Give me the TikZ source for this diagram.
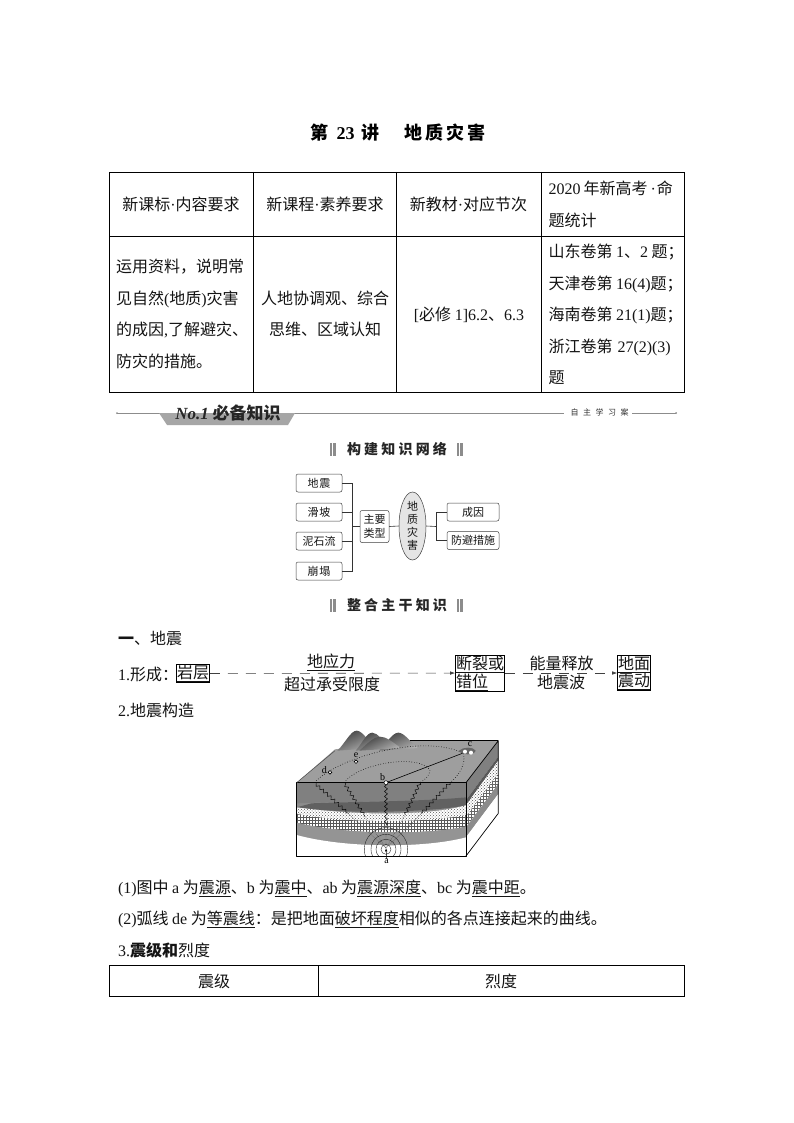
\documentclass[tikz,border=0pt]{standalone}
\usepackage{fontspec}
\setmainfont{Noto Sans CJK SC}
\newfontfamily\lat{Liberation Serif}
\newcommand{\ltn}[1]{{\lat #1}}
\newcommand{\fsz}[2]{\fontsize{#1}{#2}\selectfont}
\newcommand{\mdot}{{\lat\textperiodcentered}}
\usetikzlibrary{patterns,decorations.pathmorphing,arrows.meta,calc,shapes.geometric}
\definecolor{ink}{gray}{0.08}
\tikzset{
  txt/.style={inner sep=0pt,outer sep=0pt,text=ink,font=\fsz{16}{31.4}},
  ltxt/.style={txt,anchor=west,align=left},
  ctxt/.style={txt,align=center},
  rule/.style={draw=black,line width=0.8pt},
  mapbox/.style={draw=black!75,line width=0.5pt,rounded corners=2pt,inner sep=0pt,font=\fsz{11}{14},align=center,text=ink},
  mapline/.style={draw=black!80,line width=0.6pt},
  flowbox/.style={draw=black,line width=0.6pt,inner sep=0.5pt,font=\fsz{16}{15.5},align=center,text=ink},
  flowdash/.style={draw=black!75,line width=0.6pt,dash pattern=on 10pt off 8pt},
  headbar/.style={fill=black!45,draw=none},
  headtxt/.style={inner sep=0pt,text=black!85,font=\bfseries\fsz{14}{16}},
  marker/.style={font=\fsz{10}{11},inner sep=0pt,text=black},
  quake/.style={draw=black,line width=0.45pt,decorate,decoration={zigzag,amplitude=1.5pt,segment length=5pt}},
  isoline/.style={draw=black,line width=0.6pt,dotted}
}
\begin{document}
\begin{tikzpicture}[x=1pt,y=-1pt]
\useasboundingbox (0,0) rectangle (794,1123);
\fill[white] (0,0) rectangle (794,1123);

% title
\node[inner sep=0pt,font=\bfseries\fsz{18}{20},text=black] (title) at (398,133)
  {第\kern8pt\ltn{\bfseries 23}\kern7pt 讲\kern25pt 地\kern3pt 质\kern3pt 灾\kern3pt 害};

% top table
\draw[rule] (109.5,172) rectangle (684.5,392);
\draw[rule] (109.5,236) -- (684.5,236);
\foreach \x in {253,396,541} \draw[rule] (\x,172) -- (\x,392);
\node[ctxt] (h1) at (181,204) {新课标\mdot 内容要求};
\node[ctxt] (h2) at (325,204) {新课程\mdot 素养要求};
\node[ctxt] (h3) at (468.5,204) {新教材\mdot 对应节次};
\node[ltxt,anchor=west] (h4) at (548.5,204.5) {\ltn{2020}\kern3pt 年新高考\kern3pt\mdot\kern1pt 命\\题统计};
\node[ltxt,anchor=west] (b1) at (116,314) {运用资料，说明常\\见自然\ltn{(}地质\ltn{)}灾害\\的成因\ltn{,}了解避灾、\\防灾的措施。};
\node[ctxt] (b2) at (325,314) {人地协调观、综合\\思维、区域认知};
\node[ctxt] (b3) at (469,314.5) {\ltn{[}必修 \ltn{1]6.2}、\ltn{6.3}};
\node[ltxt,anchor=west] (b4) at (548.5,314.5) {山东卷第 \ltn{1}、\ltn{2} 题；\\天津卷第 \ltn{16(4)}题；\\海南卷第 \ltn{21(1)}题；\\浙江卷第\kern5pt\ltn{27(2)(3)}\\题};

% section strip
\coordinate (stripL) at (117,413);
\coordinate (stripR) at (676,413);
\node[inner sep=0pt,font=\fsz{8}{10},text=black!80] (self) at (599.5,412.5) {自\kern4.5pt 主\kern4.5pt 学\kern4.5pt 习\kern4.5pt 案};
\draw[black!45,line width=0.7pt] (stripL) -- (564,413);
\draw[black!45,line width=0.7pt] (632,413) -- (stripR);
\fill[black!45] (stripL) circle (1pt) (stripR) circle (1pt);
\fill[black!35] (159,413) -- (295,413) -- (288,425) -- (167,425) -- cycle;
\node[inner sep=0pt,text=black!85,font=\bfseries\fsz{17}{18}] (no1) at (228,412.5) {\ltn{\bfseries\itshape No.1} 必备知识};

% header 1
\node[headtxt] (net) at (397,449.5) {构\kern3.2pt 建\kern3.2pt 知\kern3.2pt 识\kern3.2pt 网\kern3.2pt 络};
\foreach \x in {330,457} {\fill[headbar] (\x,443) rectangle ++(1.6,13); \fill[headbar] (\x+3.4,443) rectangle ++(3,13);}

% mind map
\node[mapbox,minimum width=46pt,minimum height=18pt] (m1) at (319,483) {地\kern1pt 震};
\node[mapbox,minimum width=46pt,minimum height=18pt] (m2) at (319,512) {滑\kern1pt 坡};
\node[mapbox,minimum width=46pt,minimum height=18pt] (m3) at (319,541) {泥石流};
\node[mapbox,minimum width=46pt,minimum height=18pt] (m4) at (319,571) {崩\kern1pt 塌};
\node[mapbox,minimum width=29pt,minimum height=32pt] (mt) at (374.5,526.5) {主要\\类型};
\node[mapbox,shape=ellipse,fill=black!10,rounded corners=0pt,inner sep=-6pt,minimum width=27pt,minimum height=68pt,font=\fsz{11}{12.8}] (mc) at (412.5,526) {地\\质\\灾\\害};
\node[mapbox,minimum width=52pt,minimum height=18pt] (r1) at (473,512) {成因};
\node[mapbox,minimum width=52pt,minimum height=18pt] (r2) at (473,540.5) {防避措施};
\coordinate (jl) at (352,526.5);
\coordinate (jr) at (436,526.5);
\draw[mapline] (m1.east) -| (jl);
\draw[mapline] (m4.east) -| (jl);
\draw[mapline] (m2.east) -- (m2.east -| jl);
\draw[mapline] (m3.east) -- (m3.east -| jl);
\draw[mapline] (jl) -- (mt.west);
\draw[mapline] (mt.east) -- (mc.west);
\draw[mapline] (mc.east) -- (jr);
\draw[mapline] (jr) |- (r1.west);
\draw[mapline] (jr) |- (r2.west);

% header 2
\node[headtxt] (main) at (397,605) {整\kern3.2pt 合\kern3.2pt 主\kern3.2pt 干\kern3.2pt 知\kern3.2pt 识};
\foreach \x in {330,457} {\fill[headbar] (\x,598.5) rectangle ++(1.6,13); \fill[headbar] (\x+3.4,598.5) rectangle ++(3,13);}

% section one
\node[ltxt,anchor=west] (s1) at (118,638) {{\bfseries 一}、地震};
\node[ltxt] (f0) at (118,674) {\ltn{1.}形成：};
\node[flowbox] (f1) at (193,673.5) {\underline{岩层}};
\node[flowbox,align=left] (f2) at (480,673) {\underline{断裂或}\\\underline{错位}};
\node[flowbox] (f3) at (634,673) {\underline{地面}\\\underline{震动}};
\draw[flowdash,-{Latex[length=5pt,width=3.5pt]}] (f1) -- (f2);
\draw[flowdash,-{Latex[length=5pt,width=3.5pt]}] (f2) -- (f3);
\node[txt] (l1) at (331,662) {\underline{地应力}};
\node[txt] (l2) at (332,684) {超过承受限度};
\node[txt] (l3) at (561.5,663) {能量释放};
\node[txt] (l4) at (561,682) {地震波};
\node[ltxt] (s2) at (118,710) {\ltn{2.}地震构造};

% block diagram (coordinates read from a 3x crop)
\begin{scope}[shift={(285,720)},x=0.3333pt,y=-0.3333pt]
  % top face
  \fill[black!38] (35,188) -- (150,88) -- (375,62) -- (640,62) -- (543,188) -- cycle;
  % mountains
  \foreach \px/\ph/\pw in {215/32/58,262/38/50,340/38/58,285/50/62} {
    \shade[top color=black!75,bottom color=black!30,shading angle=25]
      (\px-\pw,92) .. controls (\px-\pw*0.6,70) and (\px-18,\ph) .. (\px,\ph)
      .. controls (\px+18,\ph) and (\px+\pw*0.6,65) .. (\px+\pw,84) -- cycle;
  }
  % right face
  \fill[black!50] (543,188) -- (640,62) -- (640,110) -- (543,240) -- cycle;
  \fill[black!65] (543,240) -- (640,110) -- (640,122) -- (543,256) -- cycle;
  \fill[white] (543,256) -- (640,122) -- (640,192) -- (543,322) -- cycle;
  \fill[pattern=crosshatch dots,pattern color=black!70] (543,256) -- (640,122) -- (640,160) -- (543,290) -- cycle;
  \fill[pattern=grid,pattern color=black!60] (543,290) -- (640,160) -- (640,192) -- (543,322) -- cycle;
  \fill[black!45] (543,322) -- (640,192) -- (640,222) -- (543,352) -- cycle;
  \fill[white] (543,352) -- (640,222) -- (640,280) -- (543,408) -- cycle;
  % front face
  \fill[black!45] (35,188) rectangle (543,408);
  \fill[black!50] (35,188) -- (543,188) -- (543,232) .. controls (440,245) and (150,245) .. (35,250) -- cycle;
  \fill[black!62] (80,250) .. controls (200,245) and (400,245) .. (543,232) -- (543,256) .. controls (450,275) and (200,285) .. (35,262) -- cycle;
  \fill[white] (35,262) .. controls (200,285) and (420,290) .. (543,256) -- (543,320) .. controls (420,345) and (180,345) .. (35,308) -- cycle;
  \fill[pattern=crosshatch dots,pattern color=black!65] (35,262) .. controls (200,285) and (420,290) .. (543,256) -- (543,285) .. controls (420,310) and (180,310) .. (35,282) -- cycle;
  \fill[pattern=grid,pattern color=black!65] (35,282) .. controls (180,310) and (420,310) .. (543,285) -- (543,320) .. controls (420,345) and (180,345) .. (35,308) -- cycle;
  \fill[black!42] (35,308) .. controls (180,345) and (420,345) .. (543,320) -- (543,352) .. controls (420,385) and (180,385) .. (35,345) -- cycle;
  \fill[white] (35,345) .. controls (180,385) and (420,385) .. (543,352) -- (543,408) -- (35,408) -- cycle;
  % seismic waves
  \begin{scope}
    \clip (35,188) rectangle (543,408);
    \foreach \r in {15,30,45,65} \draw[black!85,line width=0.4pt] (303,388) circle[radius=\r];
  \end{scope}
  \coordinate (q0) at (303,385);
  \draw[quake] (88,188) -- (190,280);
  \draw[quake] (177,188) -- (240,290);
  \draw[quake] (303,188) -- (303,320);
  \draw[quake] (405,188) -- (360,285);
  \draw[quake] (495,188) -- (410,280);
  \draw[black!80,line width=0.4pt,densely dotted] (190,280) -- (q0) (240,290) -- (q0) (303,320) -- (q0) (360,285) -- (q0) (410,280) -- (q0);
  % outline
  \draw[black,line width=0.7pt,line join=round] (35,188) rectangle (543,408);
  \draw[black,line width=0.7pt,line join=round] (543,188) -- (640,62) -- (640,280) -- (543,408);
  \draw[black,line width=0.5pt] (375,62) -- (640,62);
  \draw[black!70,line width=0.5pt] (35,188) -- (150,92);
  % isolines on the surface
  \draw[isoline] (88,188) .. controls (160,110) and (420,40) .. (535,100) .. controls (545,130) and (520,170) .. (495,188);
  \draw[isoline] (177,188) .. controls (220,130) and (400,100) .. (435,150) .. controls (435,165) and (420,180) .. (405,188);
  % epicentre line, points
  \coordinate (bpt) at (303,188);
  \coordinate (cpt) at (545,95);
  \draw[black,line width=0.6pt] (bpt) -- (cpt);
  \fill[black!60] (522,92) .. controls (535,80) and (565,80) .. (572,92) .. controls (570,105) and (530,108) .. (522,92) -- cycle;
  \fill[white] (540,95) circle[radius=6] (558,98) circle[radius=6];
  \draw[fill=white,line width=0.5pt] (bpt) circle[radius=6];
  \draw[black,fill=white,line width=0.6pt] (135,157) circle[radius=5.5];
  \draw[black,fill=white,line width=0.6pt] (213,125) circle[radius=5.5];
  \node[marker] (la) at (305,425) {\ltn{a}};
  \node[marker] (lb) at (293,170) {\ltn{b}};
  \node[marker] (lc) at (555,73) {\ltn{c}};
  \node[marker] (ld) at (118,150) {\ltn{d}};
  \node[marker] (le) at (213,105) {\ltn{e}};
  \draw[black,line width=0.5pt,-{Latex[length=3pt,width=2.5pt]}] (la.north) -- (q0);
\end{scope}

% text below
\node[ltxt] (t1) at (118,888.5) {\ltn{(1)}图中 \ltn{a} 为\underline{震源}、\ltn{b} 为\underline{震中}、\ltn{ab} 为\underline{震源深度}、\ltn{bc} 为\underline{震中距}。};
\node[ltxt] (t2) at (118,919.5) {\ltn{(2)}弧线 \ltn{de} 为\underline{等震线}：是把地面\underline{破坏程度}相似的各点连接起来的曲线。};
\node[ltxt] (t3) at (118,950) {\ltn{3.}{\bfseries 震级和}烈度};

% bottom table
\draw[rule] (109.5,965.5) rectangle (684.5,996);
\draw[rule] (318.5,965.5) -- (318.5,996);
\node[ctxt] (c1) at (214,981) {震级};
\node[ctxt] (c2) at (501,981) {烈度};
\end{tikzpicture}
\end{document}
